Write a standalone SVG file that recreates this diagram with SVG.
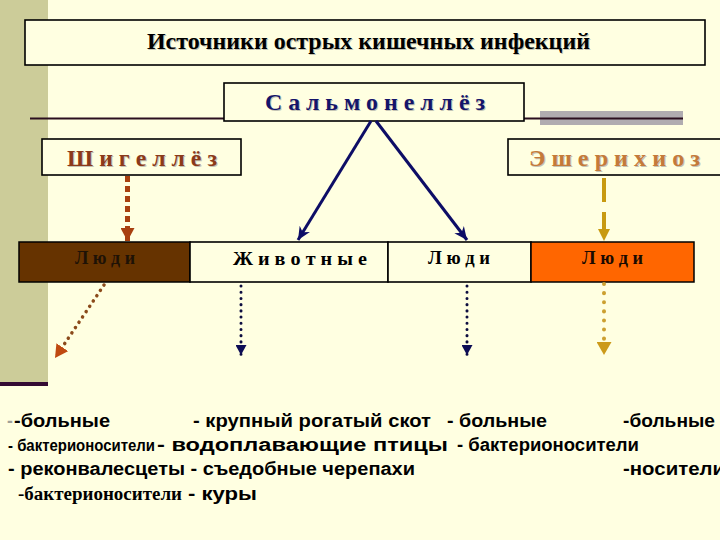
<svg xmlns="http://www.w3.org/2000/svg" width="720" height="540" viewBox="0 0 720 540">
<style>
.bg{fill:#FFFFE1}
.box{fill:#FFFFE1;stroke:#000;stroke-width:1.6}
.ttl{font-family:"Liberation Serif","DejaVu Serif",serif;font-weight:bold}
.sh{fill:#C4C4B4}
.row{font-family:"Liberation Serif","DejaVu Serif",serif;font-weight:bold;font-size:18.5px}
.txt{font-family:"Liberation Sans",Arial,sans-serif;font-weight:bold;font-size:17.5px;fill:#000}
</style>
<defs>
<marker id="navyHead" markerUnits="userSpaceOnUse" markerWidth="14" markerHeight="12" refX="13" refY="6" orient="auto" viewBox="0 0 14 12">
<path d="M0,0 L13,6 L0,12 L4,6 z" fill="#0D0D66"/>
</marker>
<marker id="navySmall" markerUnits="userSpaceOnUse" markerWidth="11" markerHeight="11" refX="10" refY="5.5" orient="auto" viewBox="0 0 11 11">
<path d="M0,0 L10,5.5 L0,11 z" fill="#0D0D55"/>
</marker>
<marker id="brownHead" markerUnits="userSpaceOnUse" markerWidth="14" markerHeight="14" refX="13" refY="7" orient="auto" viewBox="0 0 14 14">
<path d="M0,0 L13,7 L0,14 z" fill="#A8400F"/>
</marker>
<marker id="rustHead" markerUnits="userSpaceOnUse" markerWidth="14" markerHeight="14" refX="13" refY="7" orient="auto" viewBox="0 0 14 14">
<path d="M0,0 L13,7 L0,14 z" fill="#C04A10"/>
</marker>
<marker id="goldHead" markerUnits="userSpaceOnUse" markerWidth="13" markerHeight="12" refX="12" refY="6" orient="auto" viewBox="0 0 13 12">
<path d="M0,0 L12,6 L0,12 z" fill="#C89A10"/>
</marker>
<marker id="goldBig" markerUnits="userSpaceOnUse" markerWidth="14" markerHeight="15" refX="13" refY="7.5" orient="auto" viewBox="0 0 14 15">
<path d="M0,0 L13,7.5 L0,15 z" fill="#CC9A1A"/>
</marker>
</defs>

<rect class="bg" x="0" y="0" width="720" height="540"/>
<rect x="0" y="0" width="48" height="383" fill="#CCCC99"/>
<rect x="0" y="382" width="48" height="4" fill="#330A33"/>
<rect x="540" y="111" width="143" height="14" fill="#B0ACB0"/>
<line x1="30" y1="118.5" x2="224" y2="118.5" stroke="#2B0F1F" stroke-width="2"/>
<line x1="524" y1="118.5" x2="683" y2="118.5" stroke="#2B0F1F" stroke-width="2"/>

<g id="title">
<rect class="box" x="25" y="20" width="680" height="45"/>
<text class="ttl sh" x="148" y="50" font-size="23" textLength="443" lengthAdjust="spacingAndGlyphs">Источники острых кишечных инфекций</text>
<text class="ttl" x="147" y="49" font-size="23" fill="#000" textLength="443" lengthAdjust="spacingAndGlyphs">Источники острых кишечных инфекций</text>
</g>

<g id="salmonellosis">
<rect class="box" x="224" y="83" width="300" height="38" stroke-width="2"/>
<text class="ttl sh" x="266" y="111" font-size="24" textLength="220" lengthAdjust="spacingAndGlyphs">С а л ь м о н е л л ё з</text>
<text class="ttl" x="265" y="110" font-size="24" fill="#14146A" textLength="220" lengthAdjust="spacingAndGlyphs">С а л ь м о н е л л ё з</text>
</g>

<g id="shigellosis">
<rect class="box" x="42" y="139" width="199" height="36"/>
<text class="ttl sh" x="68" y="167" font-size="23" textLength="150" lengthAdjust="spacingAndGlyphs">Ш и г е л л ё з</text>
<text class="ttl" x="67" y="166" font-size="23" fill="#8B3A1A" textLength="150" lengthAdjust="spacingAndGlyphs">Ш и г е л л ё з</text>
</g>

<g id="escherichiosis">
<rect class="box" x="508" y="139" width="220" height="36"/>
<text class="ttl sh" x="530" y="167" font-size="23" textLength="171" lengthAdjust="spacingAndGlyphs">Э ш е р и х и о з</text>
<text class="ttl" x="529" y="166" font-size="23" fill="#C47A3A" textLength="171" lengthAdjust="spacingAndGlyphs">Э ш е р и х и о з</text>
</g>

<g id="people-shigella">
<rect x="19" y="242" width="171" height="40" fill="#663300" stroke="#000" stroke-width="1.5"/>
<text class="row" x="75" y="264" fill="#1E1206" textLength="60" lengthAdjust="spacingAndGlyphs">Л ю д и</text>
</g>

<g id="animals">
<rect class="box" x="190" y="242" width="198" height="40" stroke-width="1.5"/>
<text class="row" x="233" y="265" fill="#000" textLength="134" lengthAdjust="spacingAndGlyphs">Ж и в о т н ы е</text>
</g>

<g id="people-salmonella">
<rect class="box" x="388" y="242" width="143" height="40" stroke-width="1.5"/>
<text class="row" x="428" y="264" fill="#000" textLength="62" lengthAdjust="spacingAndGlyphs">Л ю д и</text>
</g>

<g id="people-escherichia">
<rect x="531" y="242" width="163" height="40" fill="#FF6600" stroke="#000" stroke-width="1.5"/>
<text class="row" x="582" y="264" fill="#1A0A00" textLength="61" lengthAdjust="spacingAndGlyphs">Л ю д и</text>
</g>

<g id="connectors" fill="none">
<line x1="371" y1="121" x2="298" y2="240" stroke="#0D0D66" stroke-width="3" marker-end="url(#navyHead)"/>
<line x1="376" y1="121" x2="467" y2="240" stroke="#0D0D66" stroke-width="3" marker-end="url(#navyHead)"/>
<line x1="127.5" y1="176" x2="127.5" y2="241" stroke="#A8400F" stroke-width="5" stroke-dasharray="6 4" marker-end="url(#brownHead)"/>
<line x1="604" y1="178" x2="604" y2="241" stroke="#C89A10" stroke-width="4" stroke-dasharray="24 10" marker-end="url(#goldHead)"/>
<line x1="104" y1="285" x2="55" y2="358" stroke="#8B4A1A" stroke-width="3.5" stroke-linecap="round" stroke-dasharray="0.1 6.3" marker-end="url(#rustHead)"/>
<line x1="241" y1="286" x2="241" y2="355" stroke="#0D0D40" stroke-width="3" stroke-linecap="round" stroke-dasharray="0.1 6.1" marker-end="url(#navySmall)"/>
<line x1="467" y1="286" x2="467" y2="355" stroke="#0D0D40" stroke-width="3" stroke-linecap="round" stroke-dasharray="0.1 6.1" marker-end="url(#navySmall)"/>
<line x1="604" y1="284" x2="604" y2="355" stroke="#CCA030" stroke-width="4" stroke-linecap="round" stroke-dasharray="0.1 9" marker-end="url(#goldBig)"/>
</g>

<g id="lists">
<text class="txt" x="7" y="427" style="fill:#A0A098">-</text>
<text class="txt" x="14" y="427" textLength="96" lengthAdjust="spacingAndGlyphs">-больные</text>
<text class="txt" x="193" y="427" textLength="238" lengthAdjust="spacingAndGlyphs">- крупный рогатый скот</text>
<text class="txt" x="447" y="427" textLength="100" lengthAdjust="spacingAndGlyphs">- больные</text>
<text class="txt" x="623" y="427" textLength="92" lengthAdjust="spacingAndGlyphs">-больные</text>
<text class="txt" x="8" y="451" style="font-size:16px" textLength="147" lengthAdjust="spacingAndGlyphs">- бактерионосители</text>
<text class="txt" x="157" y="451" textLength="291" lengthAdjust="spacingAndGlyphs">- водоплавающие птицы</text>
<text class="txt" x="457" y="451" textLength="182" lengthAdjust="spacingAndGlyphs">- бактерионосители</text>
<text class="txt" x="8" y="475" textLength="407" lengthAdjust="spacingAndGlyphs">- реконвалесцеты - съедобные черепахи</text>
<text class="txt" x="623" y="475" textLength="102" lengthAdjust="spacingAndGlyphs">-носители</text>
<text x="18" y="500" font-family="Liberation Serif, serif" font-weight="bold" font-size="18" fill="#000" textLength="164" lengthAdjust="spacingAndGlyphs">-бактерионосители</text>
<text class="txt" x="188" y="500" textLength="69" lengthAdjust="spacingAndGlyphs">- куры</text>
</g>
</svg>
